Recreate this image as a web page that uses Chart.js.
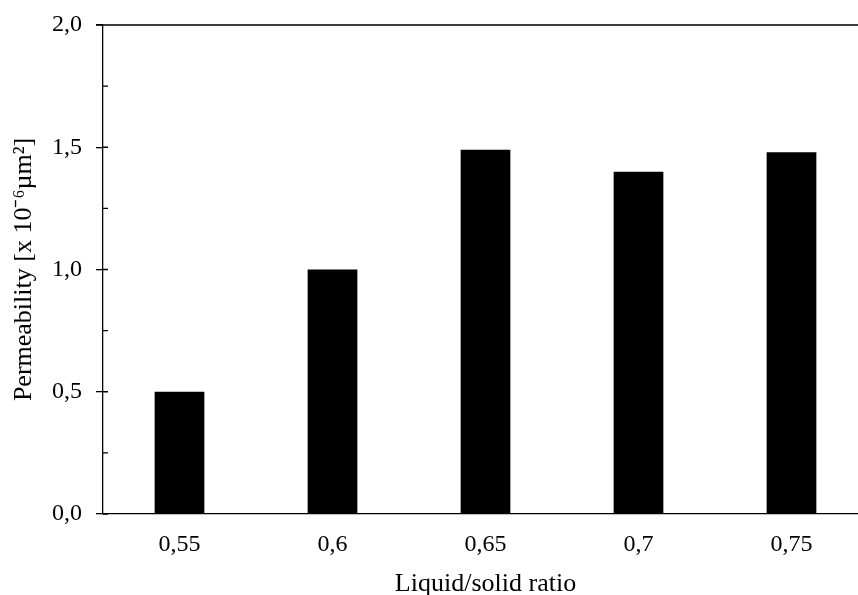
<!DOCTYPE html>
<html>
<head>
<meta charset="utf-8">
<script src="https://cdn.jsdelivr.net/npm/chart.js@4.4.0/dist/chart.umd.min.js"></script>
<style>
  html, body { margin: 0; padding: 0; background: #fff; overflow: hidden; }
  #wrap { width: 870px; height: 595px; }
</style>
</head>
<body>
<div id="wrap"><canvas id="permeability" width="870" height="595"></canvas></div>
<script>
"use strict";

// values
var ratios = ["0,55", "0,6", "0,65", "0,7", "0,75"];
var permeability = [0.50, 1.00, 1.49, 1.40, 1.48];
var yTicks = [0, 0.25, 0.5, 0.75, 1.0, 1.25, 1.5, 1.75, 2.0];

var police = "'Liberation Serif', 'Times New Roman', serif";

// frame on top + small inner ticks every 0.25
var cadre = {
    id: 'cadre',
    afterDraw: function (chart) {
        var ctx = chart.ctx;
        var zone = chart.chartArea;
        var y = chart.scales.y;
        ctx.save();
        ctx.strokeStyle = '#000';
        ctx.lineWidth = 1.3;
        ctx.beginPath();
        ctx.moveTo(zone.left - 7, zone.top);
        ctx.lineTo(zone.right, zone.top);
        for (var i = 0; i < yTicks.length; i++) {
            var py = y.getPixelForValue(yTicks[i]);
            ctx.moveTo(zone.left, py);
            ctx.lineTo(zone.left + 5, py);
        }
        ctx.stroke();
        ctx.restore();
    }
};

new Chart(document.getElementById("permeability").getContext("2d"), {
    type: 'bar',
    data: {
        labels: ratios,
        datasets: [{
            data: permeability,
            backgroundColor: '#000',
            borderColor: '#000',
            borderWidth: 0,
            barPercentage: 0.325,
            categoryPercentage: 1
        }]
    },
    options: {
        responsive: false,
        animation: false,
        layout: { padding: { top: 25, right: 2, left: 0, bottom: 0 } },
        plugins: { legend: { display: false }, tooltip: { enabled: false } },
        scales: {
            x: {
                grid: { display: false },
                border: { display: true, color: '#000', width: 1.3 },
                ticks: { color: '#000', padding: 8, font: { family: police, size: 24 } },
                title: {
                    display: true,
                    text: 'Liquid/solid ratio',
                    color: '#000',
                    font: { family: police, size: 26, lineHeight: 0.8 },
                    padding: { top: 0, bottom: 0 }
                },
                afterFit: function (scale) { scale.height = 81; }
            },
            y: {
                min: 0,
                max: 2,
                ticks: {
                    stepSize: 0.5,
                    color: '#000',
                    padding: 14,
                    font: { family: police, size: 24 },
                    callback: function (v) { return v.toFixed(1).replace('.', ','); }
                },
                grid: {
                    drawOnChartArea: false,
                    drawTicks: true,
                    tickLength: 7,
                    color: '#000',
                    lineWidth: 1.3
                },
                border: { display: true, color: '#000', width: 1.3 },
                title: {
                    display: true,
                    text: 'Permeability [x 10\u207B\u2076\u00B5m\u00B2]',
                    color: '#000',
                    font: { family: police, size: 26 },
                    padding: { top: 9, bottom: 0 }
                },
                afterFit: function (scale) {
                    scale.width = 103;
                    scale.paddingTop = 0;
                    scale.paddingBottom = 0;
                }
            }
        }
    },
    plugins: [cadre]
});
</script>
</body>
</html>
